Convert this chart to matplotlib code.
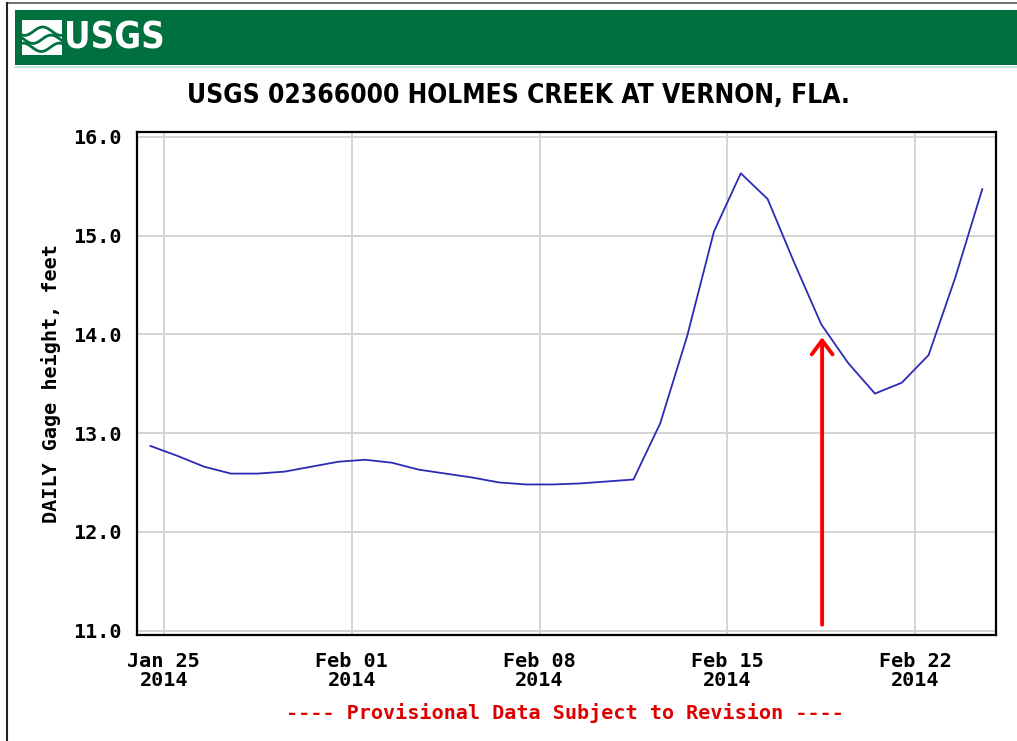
import numpy as np
import pandas as pd
import matplotlib
matplotlib.use("Agg")
import matplotlib.pyplot as plt
from matplotlib import font_manager
from matplotlib.patches import Rectangle
from matplotlib.lines import Line2D

# ---------------- data ----------------
dates = pd.date_range("2014-01-24 12:00", "2014-02-24 12:00", freq="D")
gage_height = [12.87, 12.77, 12.66, 12.59, 12.59, 12.61, 12.66, 12.71,
               12.73, 12.70, 12.63, 12.59, 12.55, 12.50, 12.48, 12.48,
               12.49, 12.51, 12.53, 13.10, 13.98, 15.04, 15.63, 15.37,
               14.72, 14.10, 13.71, 13.40, 13.51, 13.79, 14.58, 15.47]
tick_dates = pd.to_datetime(["2014-01-25", "2014-02-01", "2014-02-08",
                             "2014-02-15", "2014-02-22"])
tick_labels = ["Jan 25\n2014", "Feb 01\n2014", "Feb 08\n2014",
               "Feb 15\n2014", "Feb 22\n2014"]
y_ticks = [11.0, 12.0, 13.0, 14.0, 15.0, 16.0]
arrow_date = pd.Timestamp("2014-02-18 12:45")
arrow_tip, arrow_base = 13.97, 11.06

title = "USGS 02366000 HOLMES CREEK AT VERNON, FLA."
ylabel = "DAILY Gage height, feet"
footer = "---- Provisional Data Subject to Revision ----"

# ---------------- fonts ----------------
condensed = None
for f in font_manager.fontManager.ttflist:
    n = f.name.lower()
    st = str(f.stretch).lower()
    if "narrow" in n or "condensed" in n or st in ("condensed", "semi-condensed",
                                                   "extra-condensed", "ultra-condensed"):
        if f.weight in ("bold", 700) or "bold" in str(f.fname).lower():
            condensed = f
            break
if condensed is not None:
    title_font = dict(family=condensed.name, fontstretch=condensed.stretch)
else:
    title_font = dict(family="Liberation Sans")
mono = "DejaVu Sans Mono"
MONO_SIZE = 14.5

W, H = 1017, 741
fig = plt.figure(figsize=(W / 100, H / 100), dpi=100)
renderer = fig.canvas.get_renderer()

def fx(px):
    return px / W

def fy(py):
    return 1 - py / H

def fit_width(txt, target_px):
    bb = txt.get_window_extent(renderer=renderer)
    txt.set_fontsize(txt.get_fontsize() * target_px / bb.width)

# outer frame lines
fig.add_artist(Line2D([fx(7), 1], [fy(3), fy(3)], color="#555555", lw=1.2))
fig.add_artist(Line2D([fx(7), fx(7)], [fy(3), 0], color="#222222", lw=1.5))

# green banner
fig.add_artist(Rectangle((fx(15), fy(65)), 1 - fx(15), fy(10) - fy(65),
                         facecolor="#00703f", edgecolor="none"))
fig.add_artist(Line2D([fx(15), 1], [fy(66.5), fy(66.5)], color="#b8e4dc", lw=1.2))

# logo icon
lax = fig.add_axes([fx(22), fy(55), fx(40), fy(20) - fy(55)])
lax.set_zorder(5)
lax.set_xlim(0, 1)
lax.set_ylim(0, 1)
lax.axis("off")
lax.add_patch(Rectangle((0, 0), 1, 1, facecolor="white", edgecolor="none"))
t = np.linspace(0, 1, 60)
for off in [0.22, 0.45, 0.68]:
    lax.plot(t, off + 0.12 * np.sin(2 * np.pi * (t * 1.1 + off)), color="#00703f", lw=2.0)
logo = fig.text(fx(64), fy(38), "USGS", color="white", fontsize=34, fontweight="bold",
                ha="left", va="center", zorder=6, **title_font)
fit_width(logo, 101)

# title
ttl = fig.text(fx(518), fy(96), title, fontsize=22, fontweight="bold",
               ha="center", va="center", color="black", **title_font)
fit_width(ttl, 660)

# ---------------- axes ----------------
ax = fig.add_axes([fx(137), fy(635), fx(995.7) - fx(137), fy(132) - fy(635)])
ax.plot(dates, gage_height, color="#2b2bb5", lw=1.3, zorder=3)
ax.set_xlim(pd.Timestamp("2014-01-24"), pd.Timestamp("2014-02-25"))
ax.set_ylim(10.956, 16.048)
ax.set_xticks(tick_dates)
ax.set_xticklabels(tick_labels, family=mono, fontweight="bold", fontsize=MONO_SIZE,
                   linespacing=1.05)
ax.set_yticks(y_ticks)
ax.set_yticklabels([f"{v:.1f}" for v in y_ticks], family=mono,
                   fontweight="bold", fontsize=MONO_SIZE)
ax.tick_params(axis="both", length=0)
ax.tick_params(axis="y", pad=11)
ax.tick_params(axis="x", pad=12)
ax.grid(True, color="#d4d4d4", lw=1.4, zorder=0)
for s in ax.spines.values():
    s.set_linewidth(1.6)
    s.set_color("black")
ax.set_ylabel(ylabel, family=mono, fontweight="bold", fontsize=MONO_SIZE, labelpad=9)

ax.annotate("", xy=(arrow_date, arrow_tip), xytext=(arrow_date, arrow_base),
            arrowprops=dict(arrowstyle="->,head_length=1.0,head_width=0.75",
                            color="#ff0000", lw=2.8, mutation_scale=10,
                            shrinkA=0, shrinkB=0), zorder=4)

fig.text(fx(565), fy(713), footer, color="#dd0000", family=mono,
         fontweight="bold", fontsize=MONO_SIZE, ha="center", va="center")

fig.savefig("out.png", dpi=100)
